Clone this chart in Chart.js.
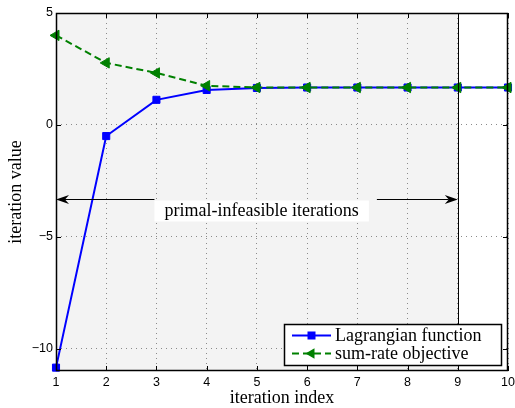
<!DOCTYPE html>
<html>
<head>
<meta charset="utf-8">
<script src="https://cdn.jsdelivr.net/npm/chart.js@4/dist/chart.umd.min.js"></script>
<style>
  html, body { margin: 0; padding: 0; background: #fff; }
  canvas { display: block; }
</style>
</head>
<body>
<canvas id="iterChart" width="515" height="408"></canvas>
<script>
// iteration history
const iterations = [1, 2, 3, 4, 5, 6, 7, 8, 9, 10];
const lagrangian = [-10.85, -0.5, 1.12, 1.56, 1.65, 1.67, 1.67, 1.67, 1.67, 1.67];
const sumRate = [4.0, 2.77, 2.32, 1.75, 1.67, 1.67, 1.67, 1.67, 1.67, 1.67];
const seriesNames = ['Lagrangian function', 'sum-rate objective'];
const yTickValues = [-10, -5, 0, 5];
const infeasibleRange = [1, 9];
const arrowLevel = -3.3;
const annotationText = 'primal-infeasible iterations';

const SERIF = '"Liberation Serif", "Times New Roman", serif';
const SANS = '"Liberation Sans", Arial, sans-serif';
const TEXT_SIZE = 18;
const BLUE = '#0000ff';
const GREEN = '#008000';

const toPoints = (ys) => iterations.map((x, i) => ({ x: x, y: ys[i] }));
const minusLabel = (v) => (v < 0 ? '\u2212' + Math.abs(v) : String(v));

function arrowHead(ctx, tipX, tipY, dir) {
    // stealth-style head, dir = -1 points left, +1 points right
    ctx.beginPath();
    ctx.moveTo(tipX, tipY);
    ctx.lineTo(tipX - dir * 13, tipY - 4.5);
    ctx.lineTo(tipX - dir * 9, tipY);
    ctx.lineTo(tipX - dir * 13, tipY + 4.5);
    ctx.closePath();
    ctx.fill();
}

const decorations = {
    id: 'decorations',
    beforeDraw(chart) {
        const { ctx, chartArea: a, scales: { x } } = chart;
        ctx.save();
        ctx.fillStyle = '#ffffff';
        ctx.fillRect(0, 0, chart.width, chart.height);
        const x0 = x.getPixelForValue(infeasibleRange[0]);
        const x1 = x.getPixelForValue(infeasibleRange[1]);
        ctx.fillStyle = '#f3f3f3';
        ctx.fillRect(x0, a.top, x1 - x0, a.bottom - a.top);
        ctx.restore();
    },
    afterDraw(chart) {
        const { ctx, chartArea: a, scales: { x, y } } = chart;
        ctx.save();

        // inward tick marks on all four sides
        ctx.strokeStyle = '#000';
        ctx.lineWidth = 1;
        ctx.beginPath();
        x.ticks.forEach(t => {
            const px = Math.round(x.getPixelForValue(t.value)) + 0.5;
            ctx.moveTo(px, a.bottom); ctx.lineTo(px, a.bottom - 5);
            ctx.moveTo(px, a.top); ctx.lineTo(px, a.top + 5);
        });
        y.ticks.forEach(t => {
            const py = Math.round(y.getPixelForValue(t.value)) + 0.5;
            ctx.moveTo(a.left, py); ctx.lineTo(a.left + 5, py);
            ctx.moveTo(a.right, py); ctx.lineTo(a.right - 5, py);
        });
        ctx.stroke();

        // boundary of the infeasible region
        const xEnd = Math.round(x.getPixelForValue(infeasibleRange[1])) + 0.5;
        ctx.beginPath();
        ctx.moveTo(xEnd, a.top);
        ctx.lineTo(xEnd, a.bottom);
        ctx.stroke();

        // frame
        ctx.lineWidth = 1.5;
        ctx.strokeRect(Math.round(a.left) + 0.5, Math.round(a.top) + 0.5,
            Math.round(a.right - a.left) - 1, Math.round(a.bottom - a.top) - 1);

        // double arrow with label box
        const ax0 = x.getPixelForValue(infeasibleRange[0]);
        const ax1 = x.getPixelForValue(infeasibleRange[1]);
        const ay = Math.round(y.getPixelForValue(arrowLevel)) + 0.5;
        ctx.font = TEXT_SIZE + 'px ' + SERIF;
        const tw = ctx.measureText(annotationText).width;
        const boxL = x.getPixelForValue(3) - 2;
        const boxW = tw + 20;
        ctx.lineWidth = 1;
        ctx.beginPath();
        ctx.moveTo(ax0 + 9, ay); ctx.lineTo(boxL, ay);
        ctx.moveTo(boxL + boxW + 8, ay); ctx.lineTo(ax1 - 9, ay);
        ctx.stroke();
        ctx.fillStyle = '#000';
        arrowHead(ctx, ax0, ay, -1);
        arrowHead(ctx, ax1, ay, 1);
        ctx.fillStyle = '#fff';
        ctx.fillRect(boxL, ay + 1, boxW, 21);
        ctx.fillStyle = '#000';
        ctx.textBaseline = 'alphabetic';
        ctx.textAlign = 'left';
        ctx.fillText(annotationText, boxL + 10, ay + 16);

        // legend
        const lw = 217, lh = 41;
        const lx = a.right - 7 - lw, ly = a.bottom - 6 - lh;
        ctx.fillStyle = '#fff';
        ctx.fillRect(lx, ly, lw, lh);
        ctx.strokeStyle = '#000';
        ctx.lineWidth = 1.5;
        ctx.strokeRect(lx + 0.5, ly + 0.5, lw, lh);
        const rows = [
            { color: BLUE, dash: [], marker: 'rect' },
            { color: GREEN, dash: [7, 4], marker: 'triangle' }
        ];
        rows.forEach((r, i) => {
            const cy = ly + 11.5 + i * 18;
            const sx = lx + 8, ex = lx + 47, mx = (sx + ex) / 2;
            ctx.strokeStyle = r.color;
            ctx.fillStyle = r.color;
            ctx.lineWidth = 2;
            ctx.setLineDash(r.dash);
            ctx.beginPath();
            ctx.moveTo(sx, cy); ctx.lineTo(ex, cy);
            ctx.stroke();
            ctx.setLineDash([]);
            if (r.marker === 'rect') {
                ctx.fillRect(mx - 4, cy - 4, 8, 8);
            } else {
                const rr = 6;
                ctx.beginPath();
                ctx.moveTo(mx - rr, cy);
                ctx.lineTo(mx + rr / 2, cy - rr * 0.866);
                ctx.lineTo(mx + rr / 2, cy + rr * 0.866);
                ctx.closePath();
                ctx.fill();
            }
            ctx.fillStyle = '#000';
            ctx.font = TEXT_SIZE + 'px ' + SERIF;
            ctx.textBaseline = 'middle';
            ctx.fillText(seriesNames[i], lx + 51, cy + 1);
        });

        ctx.restore();
    }
};

new Chart(document.getElementById('iterChart').getContext('2d'), {
    type: 'line',
    data: {
        datasets: [{
            label: seriesNames[0],
            data: toPoints(lagrangian),
            borderColor: BLUE,
            backgroundColor: BLUE,
            borderWidth: 2,
            pointStyle: 'rect',
            pointRadius: 5,
            pointBorderWidth: 1,
            tension: 0,
            clip: false,
            order: 1
        }, {
            label: seriesNames[1],
            data: toPoints(sumRate),
            borderColor: GREEN,
            backgroundColor: GREEN,
            borderWidth: 2,
            borderDash: [7, 4],
            pointStyle: 'triangle',
            pointRotation: -90,
            pointRadius: 6,
            pointBorderWidth: 1,
            tension: 0,
            clip: false,
            order: 0
        }]
    },
    options: {
        responsive: false,
        animation: false,
        devicePixelRatio: 1,
        layout: { padding: { top: 13, right: 5, left: 0, bottom: 0 } },
        plugins: {
            legend: { display: false },
            tooltip: { enabled: false }
        },
        scales: {
            x: {
                type: 'linear',
                min: 1,
                max: 10,
                ticks: {
                    stepSize: 1,
                    padding: 4,
                    color: '#000',
                    font: { family: SANS, size: 12.5 },
                    maxRotation: 0
                },
                grid: { color: '#8a8a8a', lineWidth: 1, drawTicks: false },
                border: { display: false, dash: [1, 4] },
                title: {
                    display: true,
                    text: 'iteration index',
                    color: '#000',
                    font: { family: SERIF, size: TEXT_SIZE },
                    padding: { top: 0, bottom: -1 }
                },
                afterFit(scale) {
                    scale.height = 37;
                    scale.paddingLeft = 0;
                    scale.paddingRight = 0;
                }
            },
            y: {
                type: 'linear',
                min: -11,
                max: 5,
                afterBuildTicks(scale) {
                    scale.ticks = yTickValues.map(v => ({ value: v }));
                },
                ticks: {
                    padding: 3,
                    color: '#000',
                    font: { family: SANS, size: 12.5 },
                    callback: minusLabel
                },
                grid: { color: '#8a8a8a', lineWidth: 1, drawTicks: false },
                border: { display: false, dash: [1, 4] },
                title: {
                    display: true,
                    text: 'iteration value',
                    color: '#000',
                    font: { family: SERIF, size: TEXT_SIZE },
                    padding: { top: 5, bottom: 0 }
                },
                afterFit(scale) {
                    scale.width = 56;
                }
            }
        }
    },
    plugins: [decorations]
});
</script>
</body>
</html>
